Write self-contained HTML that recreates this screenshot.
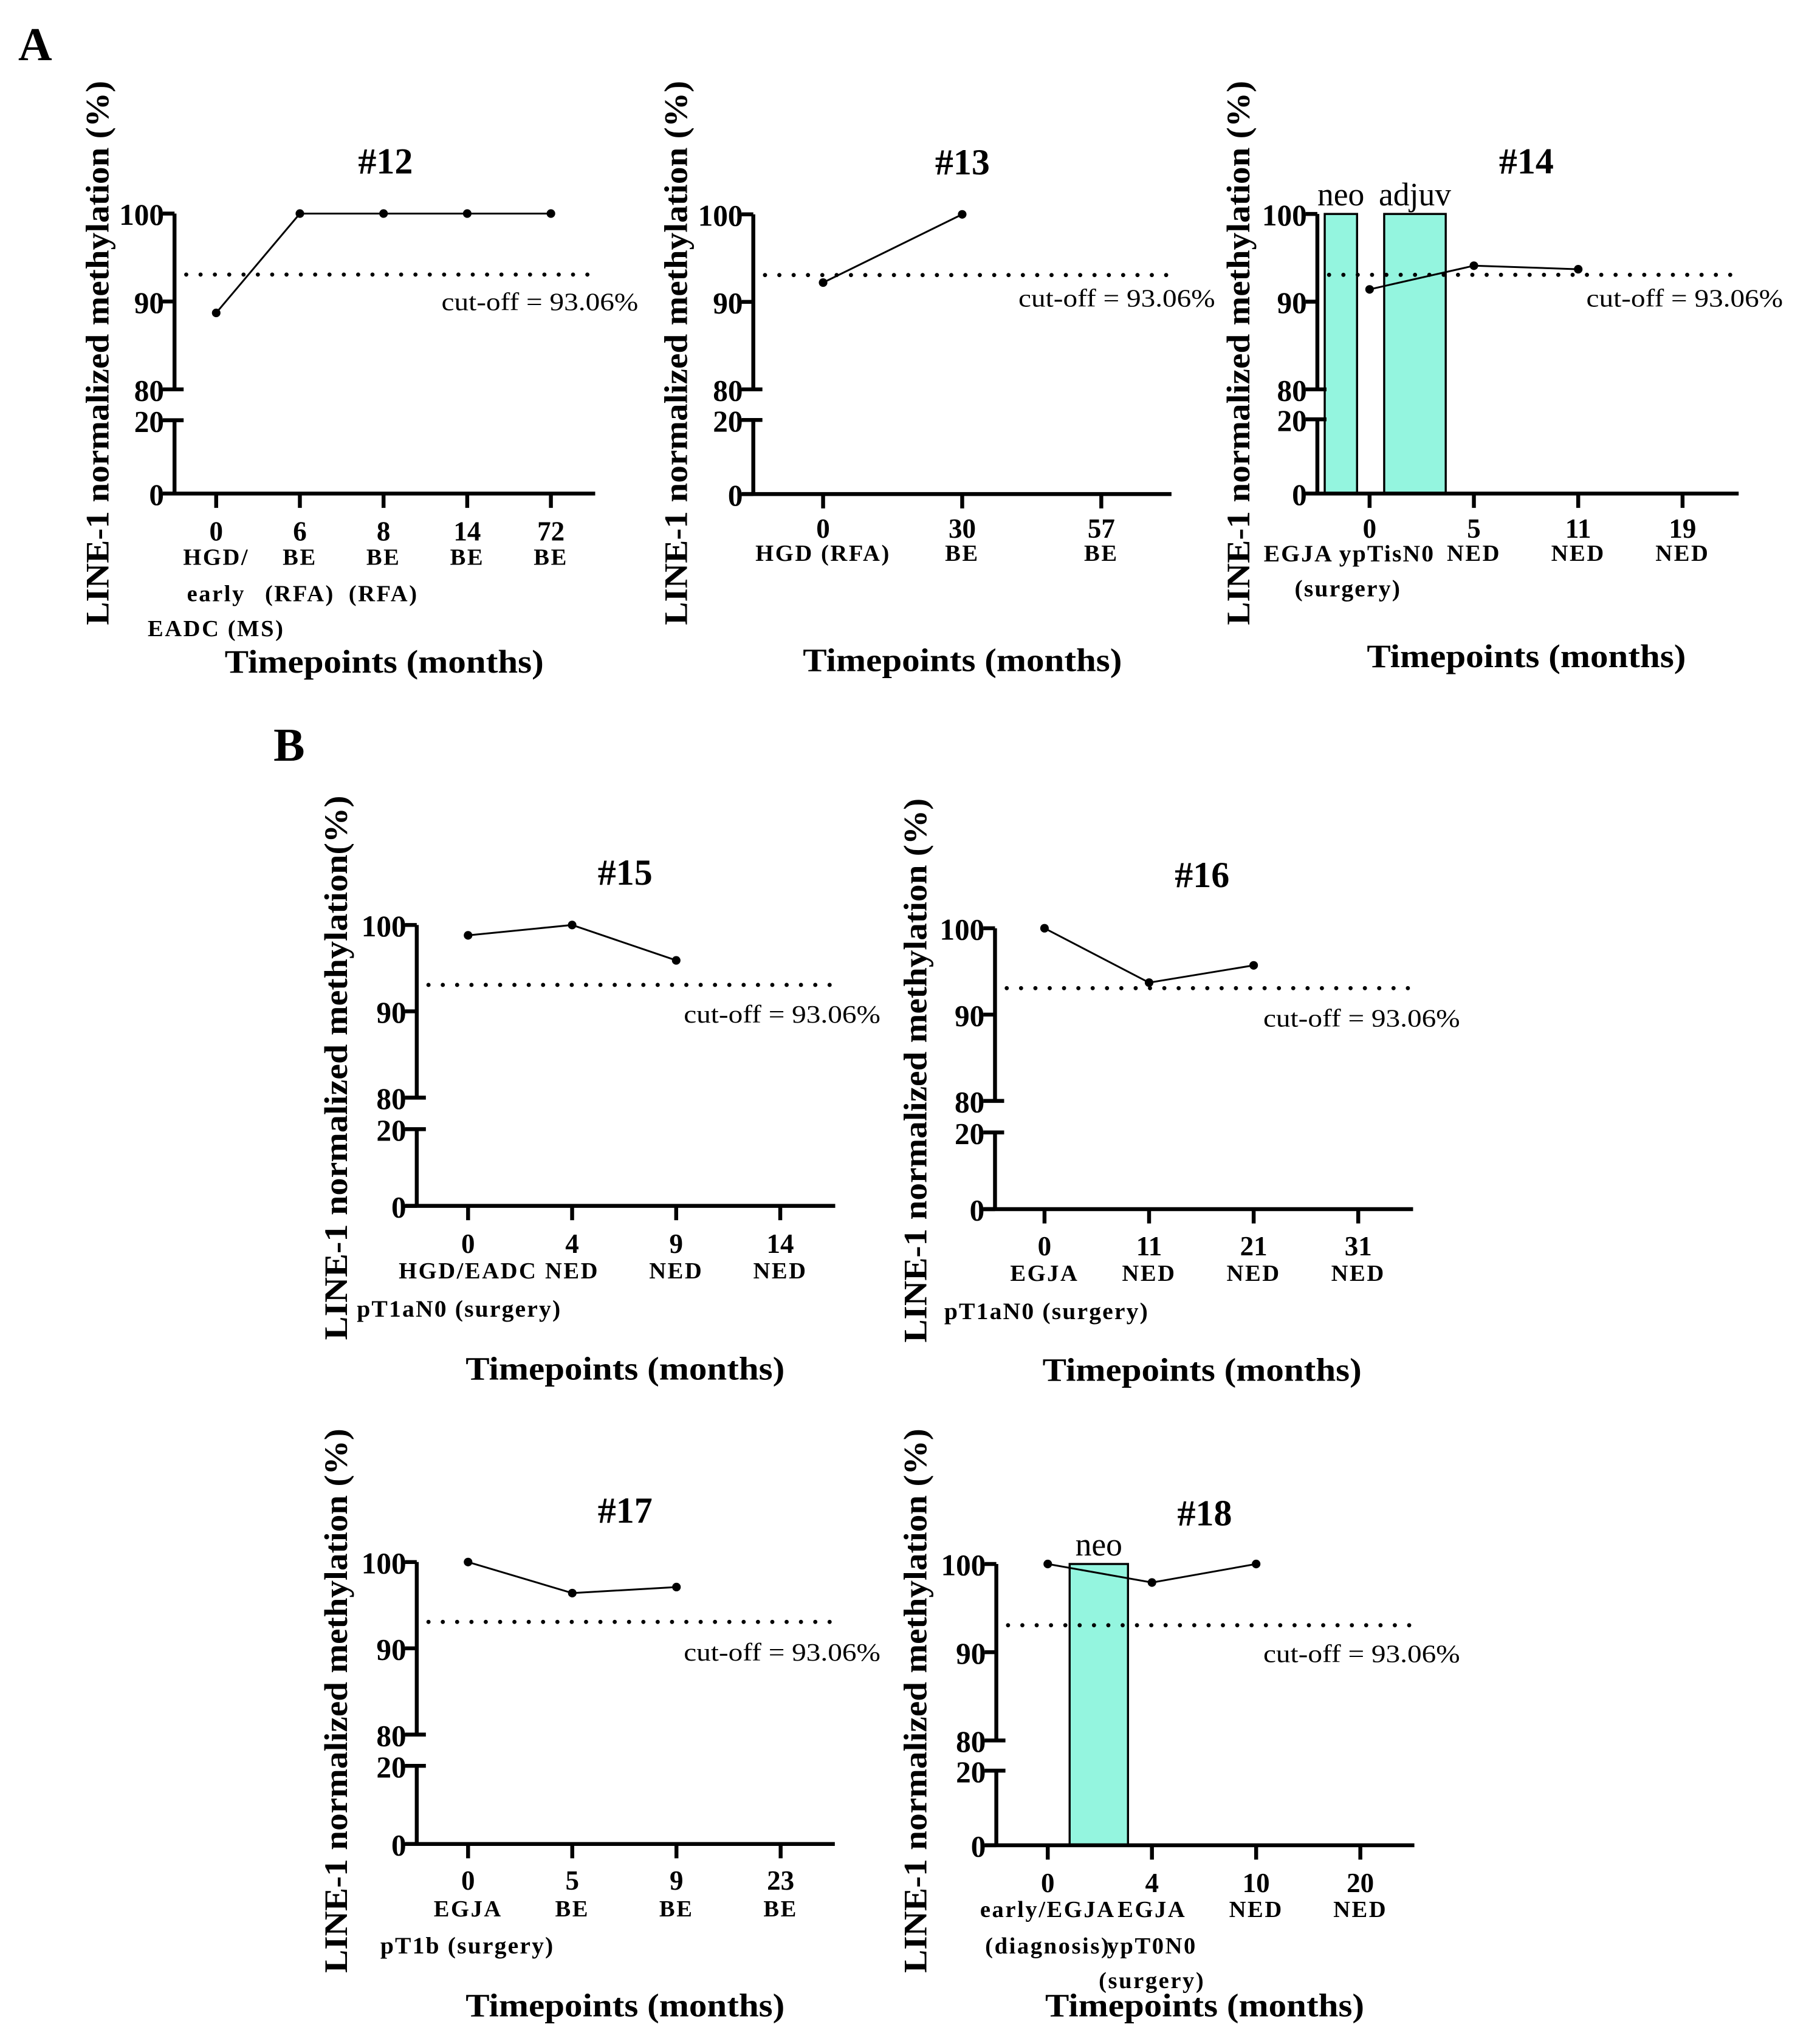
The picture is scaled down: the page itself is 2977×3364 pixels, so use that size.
<!DOCTYPE html>
<html><head><meta charset="utf-8"><style>
html,body{margin:0;padding:0;background:#fff;}
svg{display:block;}
text{font-family:"Liberation Serif",serif;fill:#000;}
</style></head><body>
<svg id="fig" width="2977" height="3364" viewBox="0 0 1389 1569.6" preserveAspectRatio="none" xmlns="http://www.w3.org/2000/svg">
<text x="27" y="34" font-size="36" font-weight="bold" text-anchor="middle" dominant-baseline="central">A</text>
<text x="222" y="572" font-size="36" font-weight="bold" text-anchor="middle" dominant-baseline="central">B</text>
</svg>
<script>
// ---- data ----
const p12Months = ["0","6","8","14","72"];
const p12Values = [88.7,100,100,100,100];
const p12Labels = [["HGD/","early","EADC (MS)"],["BE","(RFA)"],["BE","(RFA)"],["BE"],["BE"]];
const p13Months = ["0","30","57"];
const p13Values = [92.2,100];
const p13Labels = [["HGD (RFA)"],["BE"],["BE"]];
const p14Months = ["0","5","11","19"];
const p14Values = [91.4,94.1,93.7];
const p14Labels = [[""],["NED"],["NED"],["NED"]];
const p14Bars = [[-0.43,-0.12],[0.14,0.73]];
const p14BarNames = ["neo","adjuv"];
const p15Months = ["0","4","9","14"];
const p15Values = [98.8,100,95.9];
const p15Labels = [["HGD/EADC"],["NED"],["NED"],["NED"]];
const p16Months = ["0","11","21","31"];
const p16Values = [100,93.7,95.7];
const p16Labels = [["EGJA"],["NED"],["NED"],["NED"]];
const p17Months = ["0","5","9","23"];
const p17Values = [100,96.4,97.1];
const p17Labels = [["EGJA"],["BE"],["BE"],["BE"]];
const p18Months = ["0","4","10","20"];
const p18Values = [100,97.9,100];
const p18Labels = [["early/EGJA","(diagnosis)"],["EGJA","ypT0N0","(surgery)"],["NED"],["NED"]];
const p18Bars = [[0.21,0.77]];
const p18BarNames = ["neo"];
const cutoff = 93.06;
const yTicks = [0,20,80,90,100];

const NS="http://www.w3.org/2000/svg";
const svg=document.getElementById('fig');
function mk(tag,attrs,parent){const e=document.createElementNS(NS,tag);for(const k in attrs)e.setAttribute(k,attrs[k]);(parent||svg).appendChild(e);return e;}
function txt(s,x,y,size,bold,anchor,parent){const t=mk('text',{x:x,y:y,'font-size':size,'font-weight':bold?'bold':'normal','text-anchor':anchor||'middle','dominant-baseline':'central'},parent);t.textContent=s;return t;}

function drawPanel(P){
  const g=mk('g',{});
  
  
  const ys=v=> v>=80 ? P.y80-(v-80)*(P.y80-P.y100)/20 : P.y0 - v*(P.y0-P.y20)/20;
  const xs=i=> P.x0+i*P.step;
  (P.bars||[]).forEach((b,i)=>{
    const r=mk('rect',{x:xs(b[0]),y:ys(100),width:xs(b[1])-xs(b[0]),height:P.y0-ys(100),fill:'#94f5df',stroke:'#000','stroke-width':1.6},g);
    
    
    const t=txt(P.barNames[i],(xs(b[0])+xs(b[1]))/2,ys(100)-15,25,false,'middle',g);
    
    
  });
  const ax=mk('path',{d:`M${P.ax},${ys(100)}V${P.y80}M${P.ax},${P.y20}V${P.y0+1.5}M${P.ax-9},${P.y0}H${P.right}`,stroke:'#000','stroke-width':3,fill:'none'},g);
  
  
  yTicks.forEach(v=>{
    const y=ys(v);const brk=(v==20||v==80);
    mk('line',{x1:P.ax-9,x2:brk?P.ax+7:P.ax,y1:y,y2:y,stroke:'#000','stroke-width':3},g);
    const t=txt(String(v),P.ax-8,y+1,23,true,'end',g);
    
    
  });
  P.months.forEach((m,i)=>{
    const x=xs(i);
    mk('line',{x1:x,x2:x,y1:P.y0,y2:P.y0+11,stroke:'#000','stroke-width':3},g);
    const t=txt(m,x,P.rows[0],21,true,'middle',g);
    
    
    (P.labels[i]||[]).forEach((s,j)=>{
      if(!s)return;
      const c=txt(s,x,P.rows[j+1],18,true,'middle',g);
      c.setAttribute('letter-spacing','1.2');
      
      
    });
  });
  (P.extra||[]).forEach(e=>{
    const c=txt(e[0],e[1],e[2],18.5,true,e[3]||'middle',g);
    c.setAttribute('letter-spacing','1');
    
    
  });
  const cl=mk('line',{x1:P.ax+9,x2:P.right,y1:ys(cutoff),y2:ys(cutoff),stroke:'#000','stroke-width':3.2,'stroke-dasharray':'0 11','stroke-linecap':'round'},g);
  
  
  const ct=txt('cut-off = 93.06%',P.cutX,P.cutY,19,false,'end',g);
  ct.setAttribute('textLength','151');ct.setAttribute('lengthAdjust','spacingAndGlyphs');
  
  
  const pts=P.values.map((v,i)=>[xs(i),ys(v)]);
  const pl=mk('polyline',{points:pts.map(p=>p.join(',')).join(' '),fill:'none',stroke:'#000','stroke-width':1.4},g);
  
  
  pts.forEach(p=>{
    const c=mk('circle',{cx:p[0],cy:p[1],r:3.3,fill:'#000'},g);
    
    
  });
  const tt=txt('#'+P.id,P.title[0],P.title[1],28,true,'middle',g);
  
  
  const xt=txt('Timepoints (months)',P.xt[0],P.xt[1],25,true,'middle',g);
  xt.setAttribute('textLength','245');xt.setAttribute('lengthAdjust','spacingAndGlyphs');
  
  
  const yt=txt(P.yTitle,0,0,25,true,'middle',g);
  yt.setAttribute('transform',`translate(${P.yt[0]},${P.yt[1]}) rotate(-90)`);
  yt.setAttribute('textLength','418');yt.setAttribute('lengthAdjust','spacingAndGlyphs');
  
  
}
const YT='LINE-1 normalized methylation (%)';
drawPanel({id:12,months:p12Months,values:p12Values,labels:p12Labels,ax:134,y100:164,y80:299,y20:322.7,y0:379,x0:166,step:64.25,right:457,title:[296,124],xt:[295,508],yt:[75,271],cutX:490,cutY:232,rows:[408,428,456,483],yTitle:YT});
drawPanel({id:13,months:p13Months,values:p13Values,labels:p13Labels,ax:578.4,y100:164.6,y80:299,y20:322.5,y0:379.4,x0:632,step:106.8,right:899.5,title:[739,124.7],xt:[739,507],yt:[519,271],cutX:933,cutY:229,rows:[406,425],yTitle:YT});
drawPanel({id:14,months:p14Months,values:p14Values,labels:p14Labels,bars:p14Bars,barNames:p14BarNames,ax:1011.5,y100:164.3,y80:299,y20:322,y0:379,x0:1051.6,step:80.1,right:1335,title:[1172,124],xt:[1172,504],yt:[951,271],cutX:1369,cutY:229,rows:[406,425,452],extra:[["EGJA ypTisN0",1036,425],["(surgery)",1035,452]],yTitle:YT});
drawPanel({id:15,months:p15Months,values:p15Values,labels:p15Labels,ax:320,y100:710.3,y80:842.9,y20:867.1,y0:926,x0:359.4,step:79.9,right:641.3,title:[480,670],xt:[480,1051],yt:[258,820],cutX:676,cutY:779,rows:[955,976,1005],extra:[["pT1aN0 (surgery)",274,1005,'start']],yTitle:'LINE-1 normalized methylation(%)'});
drawPanel({id:16,months:p16Months,values:p16Values,labels:p16Labels,ax:764,y100:712.8,y80:845.4,y20:869.6,y0:928.5,x0:802,step:80.3,right:1085,title:[923,672],xt:[923,1052],yt:[703,822],cutX:1121,cutY:782,rows:[957,978,1007],extra:[["pT1aN0 (surgery)",725,1007,'start']],yTitle:YT});
drawPanel({id:17,months:p17Months,values:p17Values,labels:p17Labels,ax:320,y100:1199.5,y80:1332,y20:1356,y0:1416,x0:359.4,step:80,right:641,title:[480,1160],xt:[480,1540],yt:[258,1306],cutX:676,cutY:1269,rows:[1444,1466,1494],extra:[["pT1b (surgery)",292,1494,'start']],yTitle:YT});
drawPanel({id:18,months:p18Months,values:p18Values,labels:p18Labels,bars:p18Bars,barNames:p18BarNames,ax:765,y100:1201,y80:1336.5,y20:1359.7,y0:1417,x0:804.5,step:80,right:1086,title:[925,1162],xt:[925,1540],yt:[703,1306],cutX:1121,cutY:1270,rows:[1446,1466.5,1494.6,1521],yTitle:YT});
</script>
</body></html>
